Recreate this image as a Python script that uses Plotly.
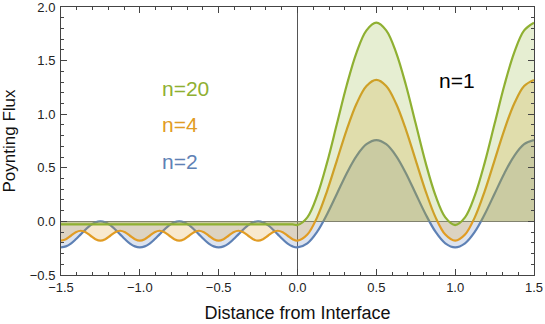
import plotly.graph_objects as go

# sample positions (distance from interface)
x_left = [-1.5, -1.46875, -1.4375, -1.40625, -1.375, -1.34375, -1.3125, -1.28125,
          -1.25, -1.21875, -1.1875, -1.15625, -1.125, -1.09375, -1.0625, -1.03125,
          -1.0, -0.96875, -0.9375, -0.90625, -0.875, -0.84375, -0.8125, -0.78125,
          -0.75, -0.71875, -0.6875, -0.65625, -0.625, -0.59375, -0.5625, -0.53125,
          -0.5, -0.46875, -0.4375, -0.40625, -0.375, -0.34375, -0.3125, -0.28125,
          -0.25, -0.21875, -0.1875, -0.15625, -0.125, -0.09375, -0.0625, -0.03125, 0.0]
x_right = [0.0625, 0.125, 0.1875, 0.25, 0.3125, 0.375, 0.4375, 0.5,
           0.5625, 0.625, 0.6875, 0.75, 0.8125, 0.875, 0.9375, 1.0,
           1.0625, 1.125, 1.1875, 1.25, 1.3125, 1.375, 1.4375, 1.5]

# n=2
blue_left = [-0.242, -0.233, -0.207, -0.167, -0.121, -0.075, -0.035, -0.009,
             0.000, -0.009, -0.035, -0.075, -0.121, -0.167, -0.207, -0.233,
             -0.242, -0.233, -0.207, -0.167, -0.121, -0.075, -0.035, -0.009,
             0.000, -0.009, -0.035, -0.075, -0.121, -0.167, -0.207, -0.233,
             -0.242, -0.233, -0.207, -0.167, -0.121, -0.075, -0.035, -0.009,
             0.000, -0.009, -0.035, -0.075, -0.121, -0.167, -0.207, -0.233, -0.242]
blue_right = [-0.204, -0.096, 0.067, 0.258, 0.450, 0.612, 0.720, 0.758,
              0.720, 0.612, 0.450, 0.258, 0.067, -0.096, -0.204, -0.242,
              -0.204, -0.096, 0.067, 0.258, 0.450, 0.612, 0.720, 0.758]

# n=4
orange_left = [-0.180, -0.166, -0.134, -0.101, -0.087, -0.101, -0.134, -0.166,
               -0.180, -0.166, -0.134, -0.101, -0.087, -0.101, -0.134, -0.166,
               -0.180, -0.166, -0.134, -0.101, -0.087, -0.101, -0.134, -0.166,
               -0.180, -0.166, -0.134, -0.101, -0.087, -0.101, -0.134, -0.166,
               -0.180, -0.166, -0.134, -0.101, -0.087, -0.101, -0.134, -0.166,
               -0.180, -0.166, -0.134, -0.101, -0.087, -0.101, -0.134, -0.166, -0.180]
orange_right = [-0.123, 0.040, 0.283, 0.570, 0.857, 1.100, 1.263, 1.320,
                1.263, 1.100, 0.857, 0.570, 0.283, 0.040, -0.123, -0.180,
                -0.123, 0.040, 0.283, 0.570, 0.857, 1.100, 1.263, 1.320]

# n=20
green_left = [-0.028] * 48 + [-0.034]
green_right = [0.038, 0.243, 0.548, 0.910, 1.272, 1.577, 1.782, 1.854,
               1.782, 1.577, 1.272, 0.910, 0.548, 0.243, 0.038, -0.034,
               0.038, 0.243, 0.548, 0.910, 1.272, 1.577, 1.782, 1.854]

series = [
    ("n=2", blue_left + blue_right, (94, 129, 181)),
    ("n=4", orange_left + orange_right, (225, 156, 36)),
    ("n=20", green_left + green_right, (143, 176, 50)),
]
xs = x_left + x_right

FONT = "Liberation Sans, Arial, sans-serif"

fig = go.Figure()
for name, ys, (r, g, b) in series:
    fig.add_trace(go.Scatter(
        x=xs, y=ys, name=name, mode="lines",
        line=dict(color=f"rgb({r},{g},{b})", width=2.2, shape="spline"),
        fill="tozeroy", fillcolor=f"rgba({r},{g},{b},0.22)",
        hoverinfo="skip",
    ))

# curve labels
labels = [
    ("n=20", -0.875, 1.24, "rgb(143,176,50)"),
    ("n=4", -0.875, 0.90, "rgb(225,156,36)"),
    ("n=2", -0.875, 0.56, "rgb(94,129,181)"),
    ("n=1", 0.885, 1.31, "black"),
]
for text, x, y, color in labels:
    fig.add_annotation(text=text, x=x, y=y, xanchor="left", yanchor="middle",
                       showarrow=False, font=dict(family=FONT, size=21, color=color))

axis_common = dict(
    showgrid=False, showline=True, linecolor="#444", linewidth=1, mirror="allticks",
    ticks="inside", ticklen=6, tickcolor="#444", tickwidth=1, automargin=False,
    ticklabeloverflow="allow",
    tickformat=".1f", tickfont=dict(family=FONT, size=13, color="#222"),
)

fig.update_layout(
    width=545, height=324,
    margin=dict(l=61, r=11, t=7, b=49),
    paper_bgcolor="white", plot_bgcolor="white",
    showlegend=False,
    xaxis=dict(
        range=[-1.5, 1.5], dtick=0.5, tick0=0,
        minor=dict(dtick=0.1, ticks="inside", ticklen=3, tickcolor="#444"),
        zeroline=True, zerolinecolor="#555", zerolinewidth=1,
        title=dict(text="Distance from Interface", font=dict(family=FONT, size=18, color="#111"),
                   standoff=12),
        ticklabelstandoff=0,
        **axis_common,
    ),
    yaxis=dict(
        range=[-0.5, 2.0], dtick=0.5, tick0=0,
        minor=dict(dtick=0.1, ticks="inside", ticklen=3, tickcolor="#444"),
        zeroline=True, zerolinecolor="#7a7a7a", zerolinewidth=1.2,
        title=dict(text="Poynting Flux", font=dict(family=FONT, size=17, color="#111"),
                   standoff=14),
        ticklabelstandoff=2,
        **axis_common,
    ),
)

# drop the browser's default body margin so the figure sits at the page corner
fig.write_html("out.html", config={"displayModeBar": False},
               post_script="document.body.style.margin='0';")
